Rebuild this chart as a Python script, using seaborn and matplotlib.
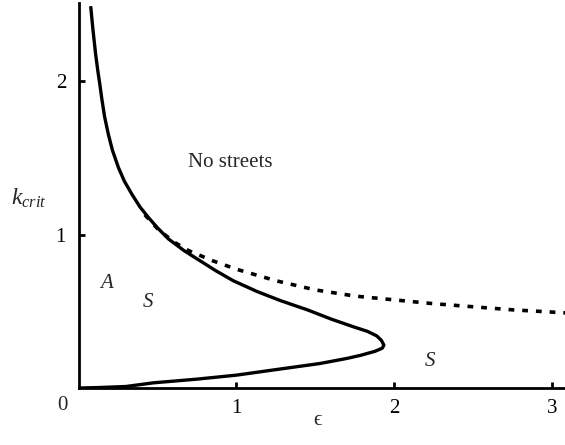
import numpy as np
import pandas as pd
import matplotlib
matplotlib.use("Agg")
import matplotlib.pyplot as plt
import seaborn as sns

# Marginal stability boundary (solid), traced from the top branch down
# through the turning point and back to the origin
boundary_eps = [0.077, 0.092, 0.108, 0.122, 0.135, 0.147, 0.165, 0.189, 0.215,
                0.253, 0.29, 0.338, 0.39, 0.443, 0.50, 0.570, 0.67, 0.77,
                0.87, 0.98, 1.13, 1.28, 1.45, 1.60, 1.74, 1.83, 1.89, 1.92,
                1.935, 1.925, 1.88, 1.79, 1.70, 1.53, 1.25, 1.00, 0.75, 0.475,
                0.30, 0.12, 0.0]
boundary_k = [2.49, 2.33, 2.18, 2.07, 1.98, 1.89, 1.77, 1.654, 1.55,
              1.437, 1.35, 1.264, 1.18, 1.112, 1.045, 0.972, 0.895, 0.83,
              0.765, 0.70, 0.63, 0.57, 0.51, 0.45, 0.40, 0.37, 0.34, 0.31,
              0.28, 0.26, 0.24, 0.214, 0.193, 0.16, 0.12, 0.084, 0.058, 0.034,
              0.01, 0.003, 0.0]

# Asymptotic boundary (dashed)
asym_eps = [0.42, 0.50, 0.60, 0.70, 0.85, 1.00, 1.25, 1.50, 1.75, 2.00,
            2.25, 2.50, 2.75, 3.09]
asym_k = [1.13, 1.04, 0.955, 0.895, 0.83, 0.775, 0.70, 0.64, 0.60, 0.575,
          0.55, 0.53, 0.51, 0.49]

x_ticks = [1, 2, 3]
y_ticks = [1, 2]

sns.set_theme(style="white")
plt.rcParams["font.family"] = ["Liberation Serif", "DejaVu Serif"]
plt.rcParams["mathtext.fontset"] = "custom"
plt.rcParams["mathtext.rm"] = "Liberation Serif"
plt.rcParams["mathtext.it"] = "Liberation Serif:italic"
plt.rcParams["mathtext.bf"] = "Liberation Serif:bold"

fig = plt.figure(figsize=(5.65, 4.45), dpi=100)
ax = fig.add_axes([0.139, 0.128, 0.863, 0.865])

solid = pd.DataFrame({"eps": boundary_eps, "k": boundary_k})
dashed = pd.DataFrame({"eps": asym_eps, "k": asym_k})

sns.lineplot(data=dashed, x="eps", y="k", sort=False, estimator=None, ax=ax,
             color="black", lw=2.6, linestyle=(0, (1.6, 2.2)),
             dash_capstyle="butt")
sns.lineplot(data=solid, x="eps", y="k", sort=False, estimator=None, ax=ax,
             color="black", lw=2.4, solid_capstyle="butt",
             solid_joinstyle="round")

ax.set_xlim(0, 3.09)
ax.set_ylim(0, 2.51)

for side in ("top", "right"):
    ax.spines[side].set_visible(False)
for side in ("left", "bottom"):
    ax.spines[side].set_linewidth(2.0)
    ax.spines[side].set_color("black")

ax.set_xticks(x_ticks)
ax.set_yticks(y_ticks)
ax.set_xticklabels([str(t) for t in x_ticks])
ax.set_yticklabels([str(t) for t in y_ticks])
ax.tick_params(axis="both", direction="in", length=4, width=2.0,
               labelsize=15, colors="black", left=True, bottom=True)
ax.tick_params(axis="x", pad=8)
ax.tick_params(axis="y", pad=9)

# shared origin label
ax.text(-0.105, -0.05, "0", transform=ax.transData, ha="center", va="top",
        fontsize=15, clip_on=False)

ax.set_xlabel("")
ax.set_ylabel("")
fig.text(0.561, 0.056, "\u03f5", fontsize=15, ha="center", va="center")
fig.text(0.052, 0.555, r"$k_{crit}$", fontsize=17, ha="center", va="center")

ax.text(0.96, 1.47, "No streets", fontsize=15, ha="center", va="center")
ax.text(0.175, 0.68, "A", fontsize=15, style="italic", ha="center", va="center")
ax.text(0.44, 0.56, "S", fontsize=15, style="italic", ha="center", va="center")
ax.text(2.23, 0.17, "S", fontsize=15, style="italic", ha="center", va="center")

fig.savefig("out.png", dpi=100)
